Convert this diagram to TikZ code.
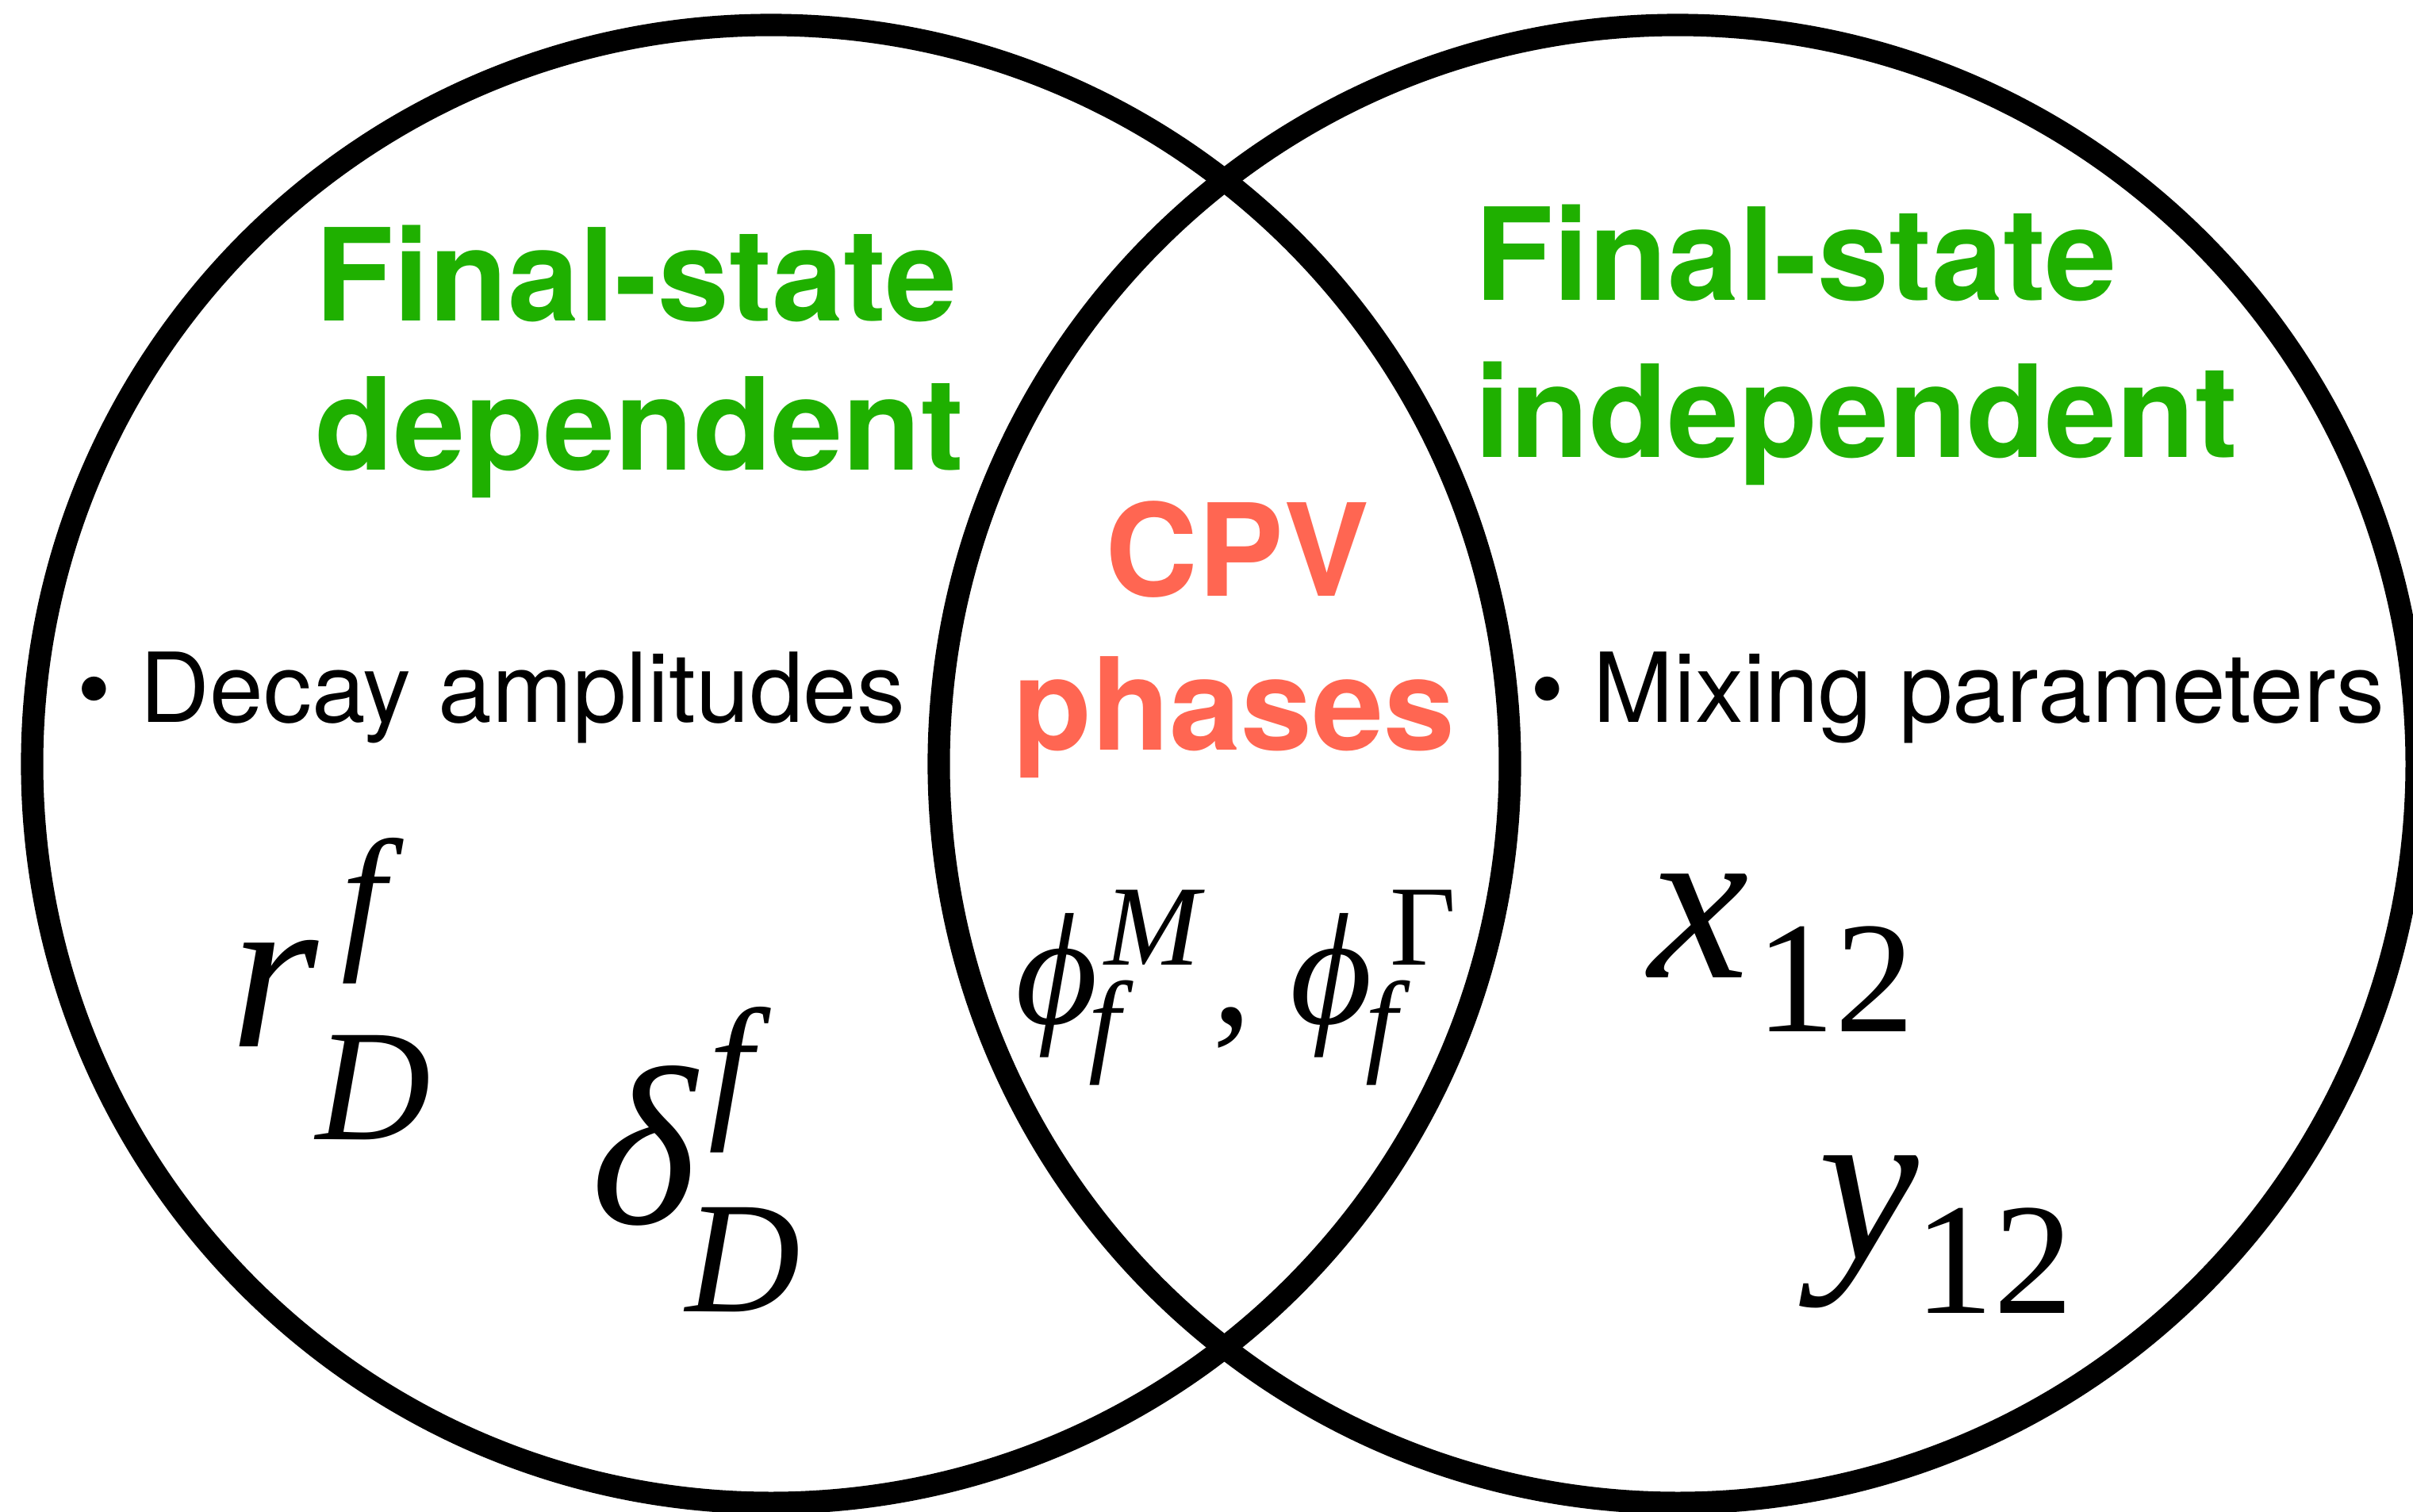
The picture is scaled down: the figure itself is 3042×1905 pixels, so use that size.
\documentclass[tikz,border=0pt]{standalone}
\usepackage{fontspec}
\setmainfont{Liberation Serif}
\setsansfont{TeX Gyre Heros}
\definecolor{fsgreen}{RGB}{31,176,0}
\definecolor{cpvred}{RGB}{255,102,82}
\usetikzlibrary{positioning}
\newcommand{\fsz}[1]{\fontsize{#1}{#1}\selectfont}

\begin{document}
\begin{tikzpicture}[x=0.01cm, y=-0.01cm,
  setc/.style={circle, draw, line width=8pt, minimum size=18.62cm, inner sep=0pt},
  head/.style={anchor=base west, inner sep=0pt, text=fsgreen, font=\fsz{46pt}\sffamily\bfseries},
  cpv/.style={anchor=base, inner sep=0pt, text=cpvred, font=\fsz{46pt}\sffamily\bfseries},
  item/.style={anchor=base west, inner sep=0pt, font=\fsz{34.6pt}\sffamily},
  sym/.style={anchor=base west, inner sep=0pt, font=\fsz{81pt}\itshape},
  idx/.style={anchor=base west, inner sep=0pt, font=\fsz{57pt}\itshape},
  psym/.style={anchor=base west, inner sep=0pt, font=\fsz{57pt}\itshape},
  pidx/.style={anchor=base west, inner sep=0pt, font=\fsz{41pt}\itshape}]

  \useasboundingbox (0,0) rectangle (3042,1905);
  \clip (0,0) rectangle (3042,1905);

  % --- the two sets ---
  \node[setc] (dep) at (972,963) {};
  \node[setc] (ind) at (2115,963) {};

  % --- headings ---
  \node[head] (depA) at (397,404) {Final-state};
  \node[head] (depB) at (397,592) {dependent};
  \node[head] (indA) at (1859,378) {Final-state};
  \node[head] (indB) at (1859,576) {independent};
  \node[cpv]  (cpvA) at (1560,751) {CPV};
  \node[cpv]  (cpvB) at (1556,945) {phases};

  % --- bullet items ---
  \node[item] (decay) at (97,910) {\textbullet\hspace{0.3em}Decay amplitudes};
  \node[item] (mix)   at (1929,910) {\textbullet\hspace{0.3em}Mixing parameters};

  % --- left set: r and delta ---
  \node[sym] (r)    at (290,1319) {r};
  \node[idx] (rf)   at (430,1197) {f};
  \node[idx] (rD)   at (398,1436) {D};
  \node[sym] (dl)   at (745,1542) {δ};
  \node[idx] (dlf)  at (893,1410) {f};
  \node[idx] (dlD)  at (864,1653) {D};

  % --- overlap: phases ---
  \node[psym] (phM)  at (1280,1290) {\symbol{"03D5}};
  \node[pidx] (phMs) at (1392,1216) {M};
  \node[pidx] (phMf) at (1372,1337) {f};
  \node[psym] (cm)   at (1528,1290) {\upshape ,};
  \node[psym] (phG)  at (1626,1290) {\symbol{"03D5}};
  \node[pidx] (phGs) at (1752,1216) {\upshape Γ};
  \node[pidx] (phGf) at (1721,1337) {f};

  % --- right set: x and y ---
  \node[sym] (x)    at (2078,1232) {x};
  \node[idx] (x12)  at (2213,1300) {\upshape 12};
  \node[sym] (y)    at (2292,1587) {y};
  \node[idx] (y12)  at (2413,1655) {\upshape 12};
\end{tikzpicture}
\end{document}
